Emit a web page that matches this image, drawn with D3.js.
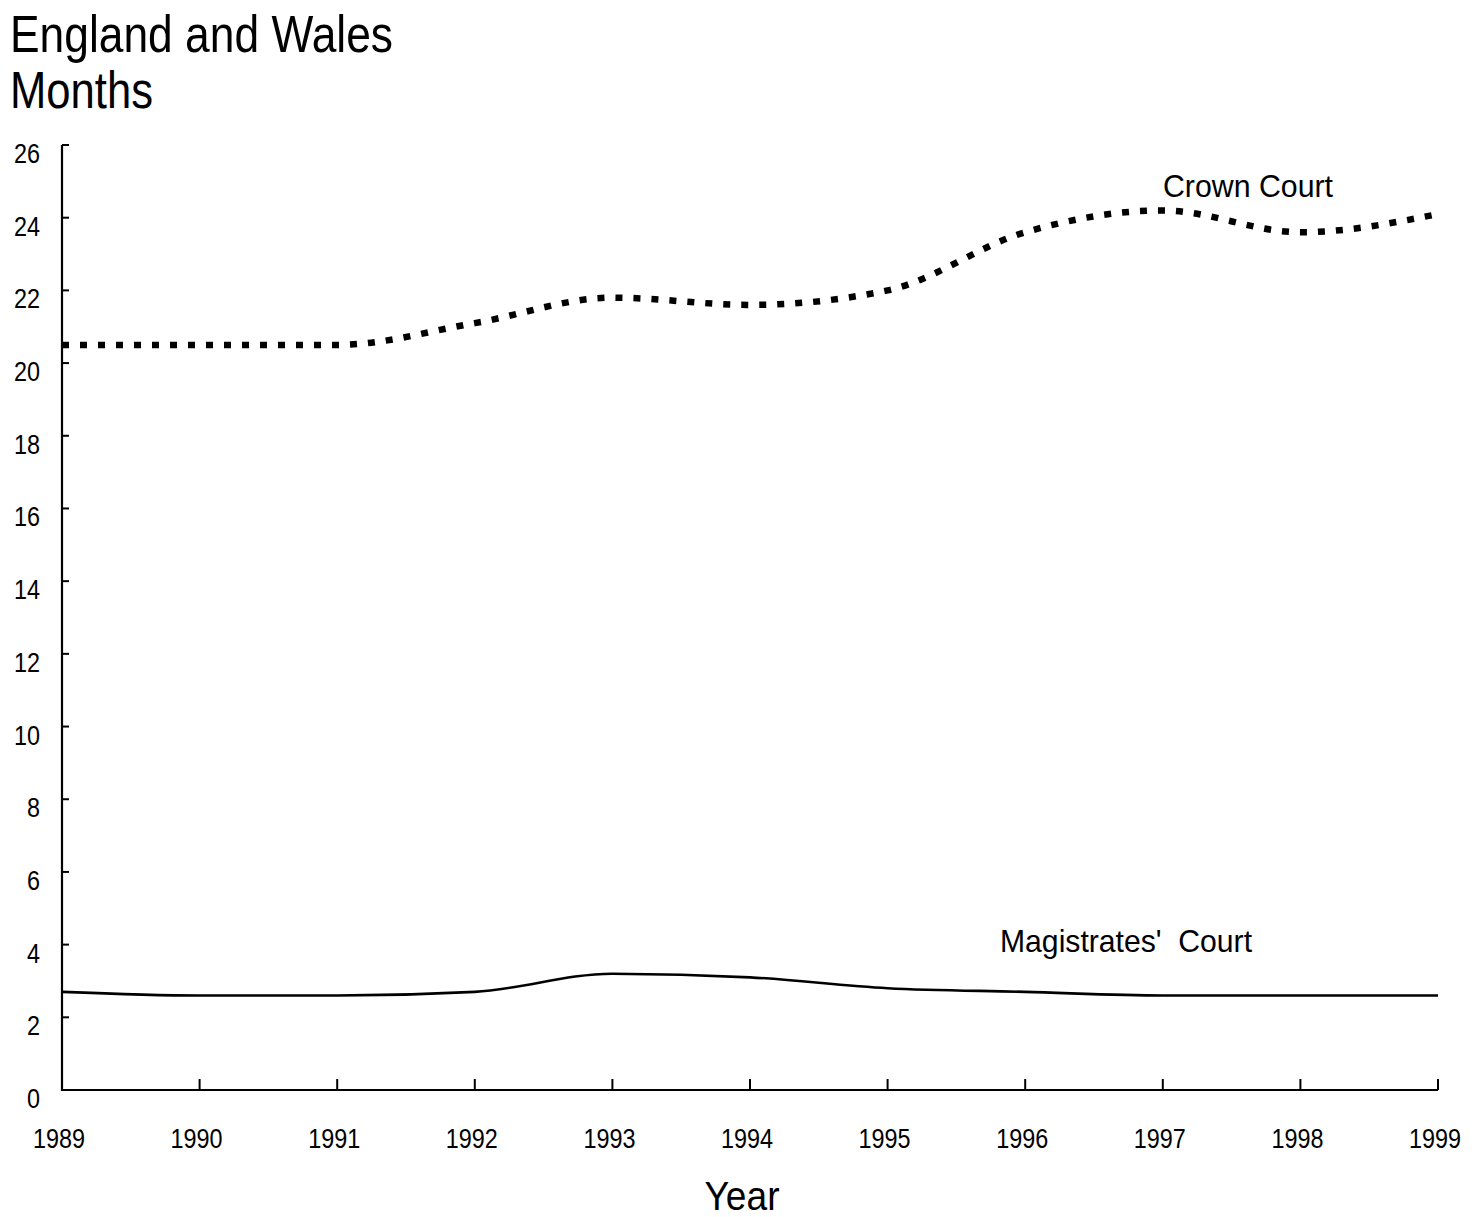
<!DOCTYPE html>
<html><head><meta charset="utf-8">
<script src="https://cdn.jsdelivr.net/npm/d3@7"></script>
<style>body{margin:0;background:#fff}svg{display:block}text{font-family:"Liberation Sans Narrow","Arial Narrow","Liberation Sans",sans-serif;fill:#000}</style>
</head><body>
<svg id="c" width="1478" height="1217"></svg>
<script>
const years = [1989,1990,1991,1992,1993,1994,1995,1996,1997,1998,1999];
const crownCourt = [20.5,20.5,20.5,21.1,21.8,21.6,22.0,23.6,24.2,23.6,24.1];
const magistratesCourt = [2.7,2.6,2.6,2.7,3.2,3.1,2.8,2.7,2.6,2.6,2.6];
const yTicks = [0,2,4,6,8,10,12,14,16,18,20,22,24,26];
const titleLines = ["England and Wales","Months"];

const svg = d3.select("#c");
const x = d3.scaleLinear().domain([1989,1999]).range([62,1438]);
const y = d3.scaleLinear().domain([0,26]).range([1090,145]);

// title
svg.append("text").attr("x",10).attr("y",52).attr("font-size",52)
  .attr("textLength",383).attr("lengthAdjust","spacingAndGlyphs").text(titleLines[0]);
svg.append("text").attr("x",10).attr("y",108).attr("font-size",52)
  .attr("textLength",143).attr("lengthAdjust","spacingAndGlyphs").text(titleLines[1]);

// axes
const gx = svg.append("g").attr("transform","translate(0,1090)");
gx.append("line").attr("x1",62).attr("x2",1438).attr("stroke","#000").attr("stroke-width",2.2);
gx.selectAll("line.t").data(years).join("line").attr("class","t")
  .attr("x1",d=>x(d)).attr("x2",d=>x(d)).attr("y1",0).attr("y2",-11)
  .attr("stroke","#000").attr("stroke-width",2);
gx.selectAll("text.l").data(years).join("text").attr("class","l")
  .attr("x",d=>x(d)-3).attr("y",58).attr("text-anchor","middle").attr("font-size",28)
  .attr("textLength",52).attr("lengthAdjust","spacingAndGlyphs").text(d=>d3.format("d")(d));

const gy = svg.append("g");
gy.append("line").attr("x1",62).attr("x2",62).attr("y1",y(26)).attr("y2",1091).attr("stroke","#000").attr("stroke-width",2.2);
gy.selectAll("line.t").data(yTicks).join("line").attr("class","t")
  .attr("x1",62).attr("x2",69).attr("y1",d=>y(d)).attr("y2",d=>y(d))
  .attr("stroke","#000").attr("stroke-width",2);
gy.selectAll("text.l").data(yTicks).join("text").attr("class","l")
  .attr("x",40).attr("y",d=>y(d)+18).attr("text-anchor","end").attr("font-size",28)
  .attr("textLength",d=>String(d).length*13).attr("lengthAdjust","spacingAndGlyphs")
  .text(d=>d);

// lines
const line = d3.line().x((d,i)=>x(years[i])).y(d=>y(d)).curve(d3.curveMonotoneX);
svg.append("path").datum(crownCourt).attr("d",line).attr("fill","none")
  .attr("stroke","#000").attr("stroke-width",6.5).attr("stroke-dasharray","7,11");
svg.append("path").datum(magistratesCourt).attr("d",line).attr("fill","none")
  .attr("stroke","#000").attr("stroke-width",2.6);

// labels
svg.append("text").attr("x",1163).attr("y",197).attr("font-size",32)
  .attr("textLength",170).attr("lengthAdjust","spacingAndGlyphs").text("Crown Court");
svg.append("text").attr("x",1000).attr("y",952).attr("font-size",32)
  .style("white-space","pre")
  .attr("textLength",252).attr("lengthAdjust","spacingAndGlyphs").text("Magistrates'  Court");
svg.append("text").attr("x",742).attr("y",1210).attr("text-anchor","middle").attr("font-size",40)
  .attr("textLength",75).attr("lengthAdjust","spacingAndGlyphs").text("Year");
</script>
</body></html>
